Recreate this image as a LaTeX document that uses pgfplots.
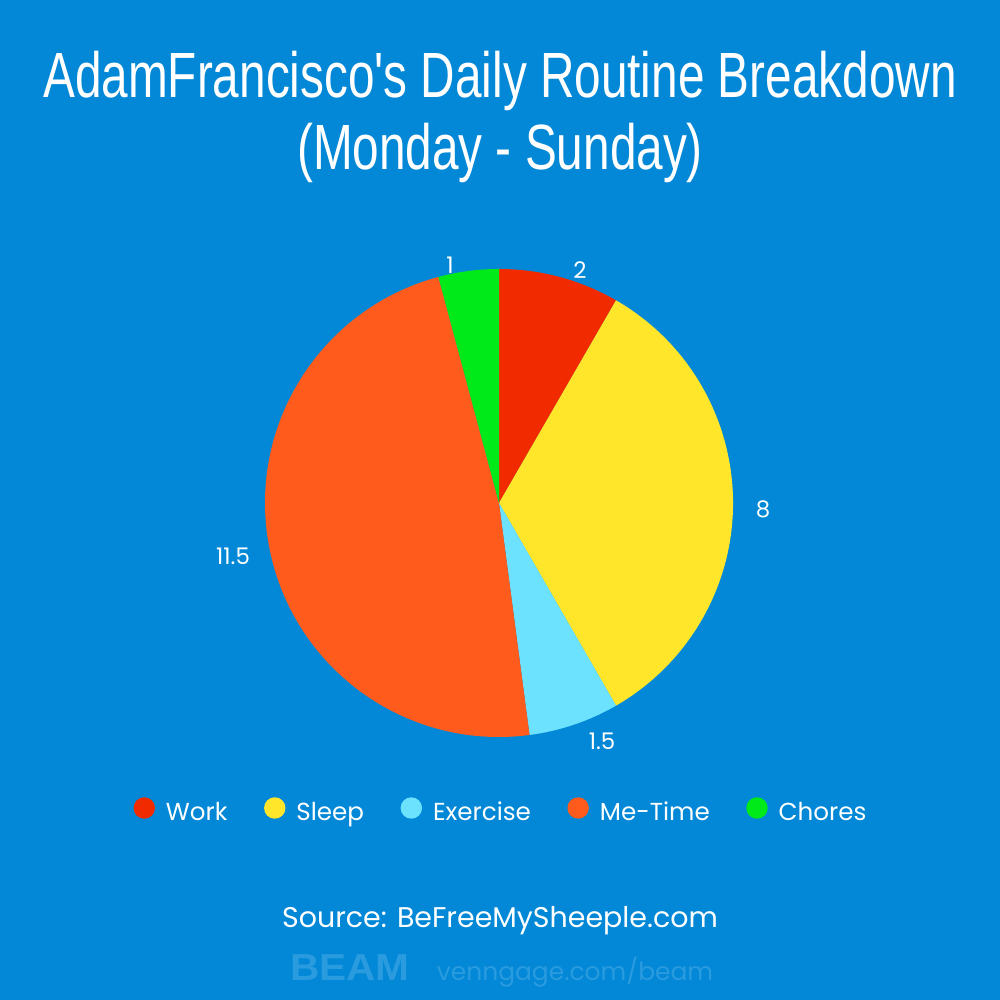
\documentclass[border=0pt]{standalone}
\usepackage{pgfplots}
\pgfplotsset{compat=1.18}
\usepackage{pgfplotstable}
\usepackage{graphicx}
\usepackage{fontspec}
\setmainfont{Poppins}
\newfontfamily\titlefont{Liberation Sans}

\definecolor{bgblue}{HTML}{0288D6}
\definecolor{wmblue}{HTML}{2A9BDF}
\definecolor{cWork}{HTML}{F22A00}
\definecolor{cSleep}{HTML}{FFE62B}
\definecolor{cExercise}{HTML}{6DE2FF}
\definecolor{cMeTime}{HTML}{FF5B1C}
\definecolor{cChores}{HTML}{00EA19}

% value = hours per day; lx, ly = label position (pixel grid, y upwards)
\pgfplotstableread{
label value colour lx ly
Work 2 cWork 580 730
Sleep 8 cSleep 763 491
Exercise 1.5 cExercise 602 259
Me-Time 11.5 cMeTime 233 444
Chores 1 cChores 450 735
}\pietable

\def\piecum{0}
\def\pietotal{0}
\pgfplotstablegetrowsof{\pietable}
\pgfmathtruncatemacro\pielast{\pgfplotsretval-1}
\foreach \r in {0,...,\pielast}{%
  \pgfplotstablegetelem{\r}{value}\of\pietable
  \pgfmathsetmacro\tmp{\pietotal+\pgfplotsretval}%
  \xdef\pietotal{\tmp}%
}
\foreach \r in {0,...,\pielast}{%
  \pgfplotstablegetelem{\r}{value}\of\pietable
  \expandafter\xdef\csname pieV\r\endcsname{\pgfplotsretval}%
  \pgfmathsetmacro\ps{90-360*\piecum/\pietotal}%
  \pgfmathsetmacro\pe{90-360*(\piecum+\pgfplotsretval)/\pietotal}%
  \expandafter\xdef\csname pieS\r\endcsname{\ps}%
  \expandafter\xdef\csname pieE\r\endcsname{\pe}%
  \pgfmathsetmacro\tmp{\piecum+\pgfplotsretval}%
  \xdef\piecum{\tmp}%
  \pgfplotstablegetelem{\r}{colour}\of\pietable
  \expandafter\xdef\csname pieC\r\endcsname{\pgfplotsretval}%
  \pgfplotstablegetelem{\r}{lx}\of\pietable
  \expandafter\xdef\csname pieX\r\endcsname{\pgfplotsretval}%
  \pgfplotstablegetelem{\r}{ly}\of\pietable
  \expandafter\xdef\csname pieY\r\endcsname{\pgfplotsretval}%
}

\newcommand\piewedge[1]{%
  \edef\temp{\noexpand\fill[\csname pieC#1\endcsname]
    (axis cs:499,497) -- ++(\csname pieS#1\endcsname:2.34cm)
    arc[start angle=\csname pieS#1\endcsname, end angle=\csname pieE#1\endcsname, radius=2.34cm] -- cycle;
    \noexpand\node[text=white, font=\noexpand\fontsize{6.5pt}{7pt}\noexpand\selectfont]
    at (axis cs:\csname pieX#1\endcsname,\csname pieY#1\endcsname) {\csname pieV#1\endcsname};}%
  \temp}

\begin{document}
\begin{tikzpicture}
\fill[bgblue] (0,0) rectangle (10cm,10cm);
\path[use as bounding box] (0,0) rectangle (10cm,10cm);
\begin{axis}[
  at={(0,0)}, anchor=south west,
  scale only axis, width=10cm, height=10cm,
  xmin=0, xmax=1000, ymin=0, ymax=1000,
  hide axis, clip=false,
  legend columns=5,
  legend cell align=left,
  legend style={
    at={(axis cs:500,192)}, anchor=center,
    draw=none, fill=none, text=white,
    font=\fontsize{7pt}{8pt}\selectfont,
    nodes={text height=0.7em, text depth=0pt, inner sep=0pt},
    /tikz/every odd column/.append style={column sep=0.11cm},
    /tikz/every even column/.append style={column sep=0.365cm},
  },
]
\pgfplotsinvokeforeach{0,...,\pielast}{\piewedge{#1}}

\addlegendimage{legend image code/.code={\fill[cWork] (0.1cm,0cm) circle (0.1cm);}}
\addlegendentry{Work}
\addlegendimage{legend image code/.code={\fill[cSleep] (0.1cm,0cm) circle (0.1cm);}}
\addlegendentry{Sleep}
\addlegendimage{legend image code/.code={\fill[cExercise] (0.1cm,0cm) circle (0.1cm);}}
\addlegendentry{Exercise}
\addlegendimage{legend image code/.code={\fill[cMeTime] (0.1cm,0cm) circle (0.1cm);}}
\addlegendentry{Me-Time}
\addlegendimage{legend image code/.code={\fill[cChores] (0.1cm,0cm) circle (0.1cm);}}
\addlegendentry{Chores}

\node[anchor=base, text=white, inner sep=0pt, font=\titlefont\fontsize{18.2pt}{20pt}\selectfont]
  at (axis cs:500,902) {\scalebox{0.746}[1]{AdamFrancisco's Daily Routine Breakdown}};
\node[anchor=base, text=white, inner sep=0pt, font=\titlefont\fontsize{18.2pt}{20pt}\selectfont]
  at (axis cs:500,830) {\scalebox{0.746}[1]{(Monday - Sunday)}};

\node[anchor=base, text=white, inner sep=0pt, font=\fontsize{8.1pt}{9pt}\selectfont]
  at (axis cs:500,72) {Source: BeFreeMySheeple.com};

\node[anchor=base, text=wmblue, inner sep=0pt, font=\titlefont\bfseries\fontsize{10.7pt}{11pt}\selectfont]
  at (axis cs:350,19) {\scalebox{1.08}[1]{BEAM}};
\node[anchor=base, text=wmblue, inner sep=0pt, font=\fontsize{7.1pt}{8pt}\selectfont]
  at (axis cs:575,19) {venngage.com/beam};
\end{axis}
\end{tikzpicture}
\end{document}
